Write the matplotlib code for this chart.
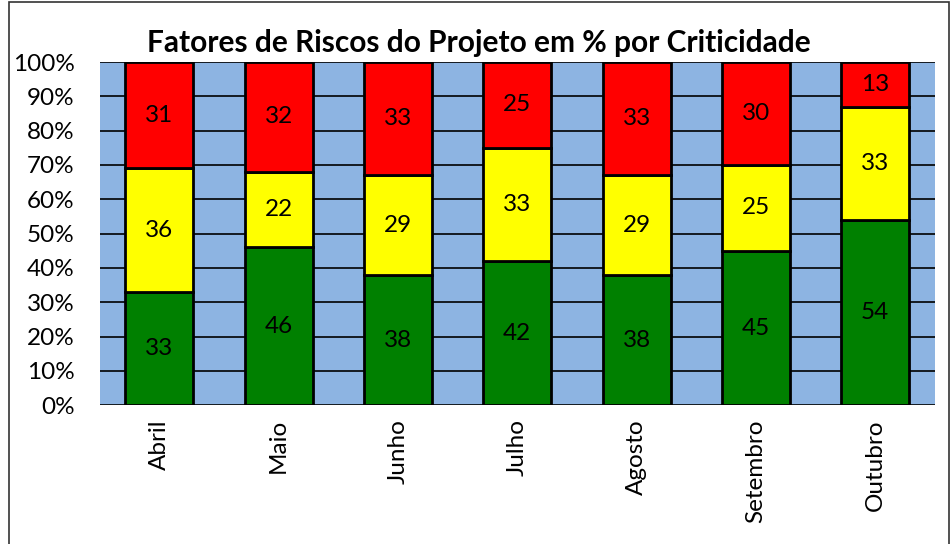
import numpy as np
import matplotlib.pyplot as plt
from matplotlib.patches import Rectangle

plt.rcParams['font.family'] = ['Lato', 'DejaVu Sans']

months = ["Abril", "Maio", "Junho", "Julho", "Agosto", "Setembro", "Outubro"]
green = [33, 46, 38, 42, 38, 45, 54]
yellow = [36, 22, 29, 33, 29, 25, 33]
red = [31, 32, 33, 25, 33, 30, 13]

fig = plt.figure(figsize=(9.5, 5.44), dpi=100)
ax = fig.add_axes([0.105, 0.255, 0.879, 0.631])
fig.patches.append(Rectangle((0.009, -0.01), 0.99, 1.006, transform=fig.transFigure,
                             fill=False, edgecolor="#333333", linewidth=1.2))

ax.set_facecolor("#8DB4E2")
x = np.arange(len(months))
w = 0.57
bottom = np.zeros(len(months))
for vals, col in [(green, "#008000"), (yellow, "#FFFF00"), (red, "#FF0000")]:
    vals = np.array(vals)
    ax.bar(x, vals, w, bottom=bottom, color=col, edgecolor="black", linewidth=2, zorder=3)
    for xi, b, v in zip(x, bottom, vals):
        ax.text(xi, b + v / 2, str(v), ha="center", va="center", fontsize=17.5, zorder=4)
    bottom += vals

ax.set_xlim(-0.5, len(months) - 0.5)
ax.set_ylim(0, 100)
ax.set_yticks(range(0, 101, 10))
ax.set_yticklabels([f"{t}%" for t in range(0, 101, 10)], fontsize=17.5)
ax.yaxis.grid(True, color="black", linewidth=1.2, zorder=1)
ax.set_axisbelow(True)
ax.set_xticks(x)
ax.set_xticklabels(months, rotation=90, fontsize=17.5)
ax.tick_params(axis="y", length=0, pad=18)
ax.tick_params(axis="x", length=0, pad=10)
for s in ax.spines.values():
    s.set_visible(False)
fig.text(0.504, 0.905, "Fatores de Riscos do Projeto em % por Criticidade", fontsize=21.5,
         fontweight="bold", ha="center", va="baseline")

fig.savefig("out.png", dpi=100)
